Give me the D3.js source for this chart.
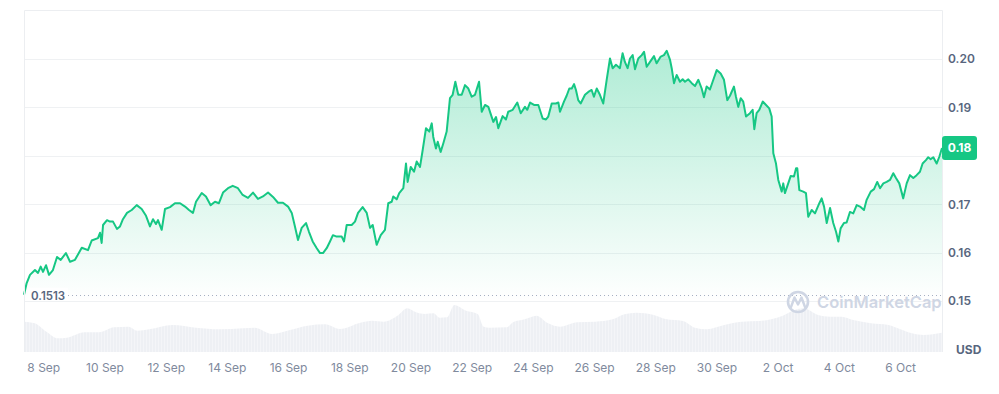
<!DOCTYPE html>
<html><head><meta charset="utf-8">
<script src="https://cdn.jsdelivr.net/npm/d3@7"></script>
<style>
html,body{margin:0;padding:0;background:#fff;}
svg{display:block;font-family:Inter,"Noto Sans",sans-serif;}
</style></head><body>
<svg id="chart" width="999" height="394"></svg>
<script>
// ---------- DATA ----------
const startTime = "2023-09-07T08:52:00Z";   // left edge of the window (30 days)
const windowHours = 720;

const priceHours = [0,2.1,4.7,8.6,11,13.1,14.9,17.3,19.6,22.7,25.9,28.8,32.9,36.1,40,45.3,50.2,53.1,58,59.6,60.9,62,65.1,67.4,69.8,72.9,75.3,77.6,80.8,84.5,88.4,92.3,95.7,98.8,101.2,103.5,105.1,108,110.6,114.5,118.4,122.4,126.3,129.4,132.5,134.9,139.4,142.7,146.4,149.8,152.9,156.1,160,163.7,167.8,171.5,175.7,179.6,183.5,187.4,191.4,195.3,199.2,203.1,207.1,210,212.5,214.9,217.8,221.2,223.5,226.4,229.6,232.2,234.5,237.4,240,242.3,245.2,249.2,251,253.1,257,259.6,262,265.6,268.8,271.4,273.5,276.6,279.8,283.1,285.7,288.4,289.6,292.3,294.3,297.5,299.6,300.9,303.3,305.9,308,310.6,312.7,315.3,317.9,319.8,321,323.1,324.5,326.8,328.9,331.5,334.1,336.2,338.3,340.6,343.3,345.9,348.5,351.1,353.7,356.9,359,361.6,364.2,368.1,370.2,372,375.4,378,379.8,383.3,386.9,389.6,392.9,394.7,396.9,400,403.4,406.8,409.4,411.2,413.9,417.2,419.1,420.4,423.5,425.6,427.7,429.6,431.4,432.9,434.7,436.6,440,442.6,445.2,447,449.2,451.7,454.3,457,459.6,461.7,464.3,467.4,469.5,471.3,473.4,475.3,477.4,479.2,481.8,484.5,486.3,488.4,491,494.1,496.2,499.4,501.9,504.1,506.7,508,509.8,511.9,514.5,516.6,518.4,521,523.7,526.3,528.9,531.5,533.3,535.4,538,540.1,543.3,546.4,549,551.6,553.7,556.8,558.4,560.2,562.1,564.1,566.3,569.4,571.5,572.8,574.6,576.7,579.4,582,584.5,586.4,587.7,589.8,591.6,594.3,595.5,596.8,599.4,601.3,603.9,605.5,606.5,608.1,611.2,613.3,615.1,617.8,620.4,623.8,625.6,627.5,629.6,632.2,634.7,636.9,638.7,640.5,643.1,645.2,647.8,650.4,653.1,655.7,658.8,660.9,664.1,666.7,669.2,671.4,674,676.6,679.2,681.8,683.9,686.5,689.6,692.3,694.9,697.5,700.1,702.7,704.8,707.4,709.2,711.1,713.2,715.8,717.9,720];

const prices = [0.1513,0.1537,0.1554,0.1564,0.1558,0.1571,0.1560,0.1574,0.1554,0.1564,0.1591,0.1585,0.1599,0.1581,0.1585,0.1610,0.1605,0.1625,0.1630,0.1641,0.1620,0.1657,0.1667,0.1664,0.1664,0.1649,0.1654,0.1669,0.1682,0.1688,0.1698,0.1690,0.1676,0.1654,0.1669,0.1659,0.1667,0.1647,0.1690,0.1694,0.1702,0.1702,0.1695,0.1688,0.1682,0.1705,0.1723,0.1716,0.1698,0.1705,0.1702,0.1724,0.1733,0.1738,0.1733,0.1719,0.1713,0.1724,0.1711,0.1716,0.1724,0.1715,0.1703,0.1703,0.1695,0.1682,0.1654,0.1626,0.1651,0.1661,0.1643,0.1623,0.1609,0.1599,0.1599,0.1609,0.1623,0.1636,0.1633,0.1633,0.1623,0.1657,0.1657,0.1664,0.1682,0.1694,0.1682,0.1651,0.1657,0.1616,0.1636,0.1647,0.1702,0.1705,0.1716,0.1710,0.1723,0.1733,0.1784,0.1746,0.1777,0.1767,0.1788,0.1777,0.1812,0.1857,0.1850,0.1867,0.1839,0.1815,0.1829,0.1808,0.1826,0.1850,0.1919,0.1926,0.1953,0.1926,0.1926,0.1946,0.1939,0.1922,0.1926,0.1953,0.1891,0.1905,0.1901,0.1870,0.1880,0.1857,0.1882,0.1875,0.1891,0.1895,0.1910,0.1888,0.1901,0.1895,0.1910,0.1905,0.1905,0.1877,0.1875,0.1881,0.1908,0.1908,0.1910,0.1891,0.1912,0.1924,0.1939,0.1939,0.1948,0.1936,0.1915,0.1908,0.1926,0.1932,0.1936,0.1922,0.1939,0.1926,0.1908,0.1957,0.2001,0.1981,0.1988,0.1981,0.2012,0.1994,0.1981,0.2001,0.2008,0.1979,0.2001,0.2008,0.2015,0.1984,0.1994,0.2006,0.1991,0.2005,0.2008,0.2017,0.1998,0.1981,0.1950,0.1967,0.1953,0.1958,0.1953,0.1958,0.1950,0.1944,0.1957,0.1939,0.1921,0.1943,0.1937,0.1953,0.1977,0.1970,0.1957,0.1915,0.1924,0.1943,0.1922,0.1901,0.1919,0.1912,0.1881,0.1888,0.1895,0.1855,0.1888,0.1895,0.1912,0.1905,0.1898,0.1881,0.1805,0.1784,0.1750,0.1726,0.1743,0.1723,0.1743,0.1758,0.1757,0.1774,0.1774,0.1729,0.1726,0.1723,0.1674,0.1688,0.1681,0.1702,0.1712,0.1695,0.1661,0.1692,0.1661,0.1643,0.1623,0.1650,0.1661,0.1662,0.1684,0.1681,0.1698,0.1695,0.1688,0.1709,0.1726,0.1731,0.1746,0.1733,0.1743,0.1746,0.1750,0.1764,0.1754,0.1743,0.1712,0.1743,0.1760,0.1754,0.1760,0.1767,0.1784,0.1791,0.1797,0.1793,0.1797,0.1784,0.1798,0.1816];

const volumeHours = [0,8.4,17.6,26.7,33.7,47.5,59,70.5,82,88.9,98.1,116.5,134.9,153.3,171.8,180.9,194.7,208.6,222.4,236.2,247.7,263.8,273,282.2,293.7,300.6,307.5,314.5,321.3,326,331.9,337.5,346.7,355.8,360.5,365.1,378.8,383.5,392.7,401.9,411.1,420.3,434.1,447.9,461.7,470.9,480.1,494,503.1,516.9,526.2,535.4,549.2,563,576.8,586,595.2,604.4,611.3,622.8,632.1,641.2,650.4,664.2,678,687.3,696.5,705.6,720];
const volumes = [58.3,55.2,39.0,26.3,27.5,37.9,37.9,47.5,48.7,41.0,43.7,51.9,46.7,43.7,45.6,46.7,34.6,42.3,50.6,53.3,44.2,56.3,60.2,58.3,71.2,84.0,76.3,73.1,74.4,66.0,66.7,90.4,79.4,73.1,48.7,46.7,47.5,57.1,62.9,69.8,55.2,48.7,57.1,58.3,62.9,72.5,75.6,71.2,63.5,59.6,46.7,43.7,51.9,58.3,59.6,62.9,69.8,80.8,84.0,71.2,67.9,67.9,61.5,55.2,51.9,43.7,36.0,32.7,37.1];

const xTickDates = ["2023-09-08","2023-09-10","2023-09-12","2023-09-14","2023-09-16","2023-09-18","2023-09-20","2023-09-22","2023-09-24","2023-09-26","2023-09-28","2023-09-30","2023-10-02","2023-10-04","2023-10-06"];
const xTickLabels = ["8 Sep","10 Sep","12 Sep","14 Sep","16 Sep","18 Sep","20 Sep","22 Sep","24 Sep","26 Sep","28 Sep","30 Sep","2 Oct","4 Oct","6 Oct"];
const yTickValues = [0.15,0.16,0.17,0.18,0.19,0.20];
const yTickLabels = ["0.15","0.16","0.17","0.18","0.19","0.20"];
const openPrice = 0.1513;
const openPriceLabel = "0.1513";
const currencyLabel = "USD";
const watermarkText = "CoinMarketCap";

// ---------- LAYOUT ----------
const L = 24, R = 942, T = 10, B = 352;
const green = "#16c784";
const svg = d3.select("#chart");

const t0 = new Date(startTime);
const toDate = h => new Date(t0.getTime() + h * 3600e3);
const x = d3.scaleUtc().domain([t0, toDate(windowHours)]).range([L, R]);
const y = d3.scaleLinear().domain([0.13946, 0.21012]).range([B, T]);
const yv = d3.scaleLinear().domain([0, 100]).range([B, B - 52]);

const priceData = priceHours.map((h, i) => ({d: toDate(h), v: prices[i]}));
const volData = volumeHours.map((h, i) => ({d: toDate(h), v: volumes[i]}));

// gradient
const defs = svg.append("defs");
const grad = defs.append("linearGradient").attr("id", "pg")
  .attr("gradientUnits", "userSpaceOnUse")
  .attr("x1", 0).attr("x2", 0)
  .attr("y1", y(d3.max(prices))).attr("y2", 300);
grad.append("stop").attr("offset", 0).attr("stop-color", green).attr("stop-opacity", 0.34);
grad.append("stop").attr("offset", 1).attr("stop-color", green).attr("stop-opacity", 0.0);

const pat = defs.append("pattern").attr("id", "vp").attr("patternUnits", "userSpaceOnUse")
  .attr("width", 3).attr("height", 10);
pat.append("rect").attr("width", 3).attr("height", 10).attr("fill", "#eef0f4");
pat.append("rect").attr("x", 2).attr("width", 1).attr("height", 10).attr("fill", "#f4f5f8");

// gridlines
svg.append("g").selectAll("line").data(yTickValues).join("line")
  .attr("x1", L).attr("x2", R)
  .attr("y1", d => Math.round(y(d)) + 0.5).attr("y2", d => Math.round(y(d)) + 0.5)
  .attr("stroke", "#eff1f3").attr("stroke-width", 1);

// volume area
svg.append("path").datum(volData)
  .attr("d", d3.area().x(d => x(d.d)).y0(B).y1(d => yv(d.v)).curve(d3.curveMonotoneX))
  .attr("fill", "url(#vp)");

// price area + line
svg.append("path").datum(priceData)
  .attr("d", d3.area().x(d => x(d.d)).y0(B).y1(d => y(d.v)))
  .attr("fill", "url(#pg)");

// open price dotted line
svg.append("line")
  .attr("x1", L).attr("x2", R)
  .attr("y1", Math.round(y(openPrice)) + 0.5).attr("y2", Math.round(y(openPrice)) + 0.5)
  .attr("stroke", "#a6b0c3").attr("stroke-width", 1).attr("stroke-dasharray", "1,3");

svg.append("path").datum(priceData)
  .attr("d", d3.line().x(d => x(d.d)).y(d => y(d.v)))
  .attr("fill", "none").attr("stroke", green).attr("stroke-width", 2)
  .attr("stroke-linejoin", "round");

// frame
svg.append("path")
  .attr("d", `M${L + 0.5},${B}V${T + 0.5}H${R + 0.5}V${B}`)
  .attr("fill", "none").attr("stroke", "#eceef1").attr("stroke-width", 1);

// open price label
const opl = svg.append("g");
opl.append("rect").attr("x", 28).attr("y", y(openPrice) - 7).attr("width", 40).attr("height", 13).attr("fill", "#fff");
opl.append("text").attr("x", 31).attr("y", y(openPrice) + 1).attr("dy", "0.35em")
  .attr("font-size", 11.5).attr("font-weight", 600).attr("fill", "#58667e").text(openPriceLabel);

// watermark
const wm = svg.append("g").attr("opacity", 1);
wm.append("circle").attr("cx", 798).attr("cy", 302).attr("r", 10)
  .attr("fill", "none").attr("stroke", "#cfd6e4").attr("stroke-width", 2.6);
wm.append("path").attr("d", "M791,307 L794.5,297.5 L798,304.5 L801.5,297.5 L805,307")
  .attr("fill", "none").attr("stroke", "#cfd6e4").attr("stroke-width", 2.4).attr("stroke-linejoin", "round").attr("stroke-linecap", "round");
wm.append("text").attr("x", 817).attr("y", 308).attr("font-size", 16.5).attr("font-weight", 600)
  .attr("fill", "#cfd6e4").text(watermarkText);

// last price (badge covers the axis label it sits on)
const last = prices[prices.length - 1];
const by = y(last);

// y axis (right)
const yAxis = d3.axisRight(y).tickValues(yTickValues).tickSize(0).tickPadding(6)
  .tickFormat((d, i) => yTickLabels[i]);
const gy = svg.append("g").attr("transform", `translate(${R},0)`).call(yAxis);
gy.select(".domain").remove();
gy.selectAll("text").attr("font-family", "Inter").attr("font-size", 12).attr("font-weight", 600).attr("fill", "#58667e");
gy.selectAll(".tick").filter(d => Math.abs(y(d) - by) < 16).remove();

// x axis (bottom)
const xAxis = d3.axisBottom(x).tickValues(xTickDates.map(s => new Date(s + "T00:00:00Z"))).tickSize(0).tickPadding(11)
  .tickFormat((d, i) => xTickLabels[i]);
const gx = svg.append("g").attr("transform", `translate(0,${B})`).call(xAxis);
gx.select(".domain").remove();
gx.selectAll("text").attr("font-family", "Inter").attr("font-size", 12).attr("fill", "#808a9d");

// USD
svg.append("text").attr("x", 956).attr("y", 350).attr("dy", "0.35em")
  .attr("font-size", 12).attr("font-weight", 700).attr("fill", "#58667e").text(currencyLabel);

// last price badge
svg.append("rect").attr("x", R).attr("y", by - 12).attr("width", 35).attr("height", 24).attr("rx", 3)
  .attr("fill", green);
svg.append("text").attr("x", R + 17.5).attr("y", by).attr("dy", "0.35em").attr("text-anchor", "middle")
  .attr("font-size", 12).attr("font-weight", 700).attr("fill", "#fff").text(d3.format(".2f")(last));
</script>
</body></html>
